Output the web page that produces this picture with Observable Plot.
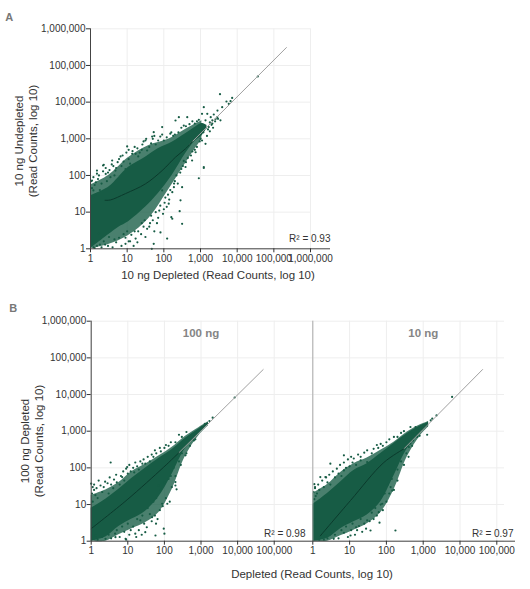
<!DOCTYPE html>
<html><head><meta charset="utf-8">
<script src="https://cdn.jsdelivr.net/npm/d3@7"></script>
<script src="https://cdn.jsdelivr.net/npm/@observablehq/plot@0.6"></script>
<style>
body{margin:0;background:#fff;font-family:"Liberation Sans",Arial,sans-serif;}
#root{position:relative;width:530px;height:589px;overflow:hidden;background:#fff;}
#root svg{position:absolute;}
.lab{position:absolute;white-space:nowrap;transform:translate(-50%,-50%);color:#333;font-size:11.5px;text-align:center;line-height:14px;}
.rot{transform:translate(-50%,-50%) rotate(-90deg);}
.tag{font-weight:bold;color:#777;font-size:11px;}
.facet{font-weight:bold;color:#858585;font-size:11.5px;}
</style></head><body><div id="root"></div>
<script>
// ---------- data ----------
const tickValues = [1, 10, 100, 1000, 10000, 100000, 1000000];
const tickValuesB = [1, 10, 100, 1000, 10000, 100000];
const r2Labels = ["R² = 0.93", "R² = 0.98", "R² = 0.97"];
const facetLabels = ["100 ng", "10 ng"];

// Panel A: solid core and half-density halo of the point cloud (x, lower edge, upper edge)
const coreA_x  = [1, 3.1, 5.9, 10.9, 31.5, 70, 168, 390, 735, 1090, 1500];
const coreA_lo = [1, 2.4, 3.9, 5.5, 13.6, 31.6, 100, 390, 900, 1200, 1900];
const coreA_hi = [28, 48, 90, 167, 316, 535, 810, 1370, 2090, 2600, 2300];
const haloA_x  = [1, 3.1, 10.9, 38, 134, 470, 1090];
const haloA_lo = [1, 1.3, 2.3, 6.5, 40, 280, 950];
const haloA_hi = [55, 100, 310, 650, 970, 2000, 3100];
const fitA_x = [2.5, 3.5, 9, 31.5, 90, 208, 390, 600];
const fitA_y = [21, 21.5, 32, 59, 136, 316, 535, 840];
const diagA_x = [500, 220000];
const diagA_y = [700, 308000];
const outA = [
[36500,50000],[3400,16500],[7300,13000],[6600,10600],[5900,9000],[5100,10400],[3900,7300],[1230,7300],[2900,5900],[2300,4600],[1900,3900],[1370,3200],[2100,3200],[1530,4800],[3500,3200],[1100,4800],[2870,3900],[435,3900],[257,3900],[208,3160],[90,2090],[1680,2090],[2100,2600],[53,1520],[48,1150],[150,1380],[590,1690],[31.5,900],[10,620],[13.7,390],[17,390],[6.6,330],[3.9,256],[2.3,195],[2.2,187],[1.5,136],[1.5,112],[2.6,110],[4.8,136],[1.1,73],[1.2,39],
[1230,170],[1230,160],[900,84],[315,48],[285,21],[270,10.6],[315,4.8],[170,6.6],[160,7.3],[123,1.9],[47,1],[15,1.2],[1.2,1.1],[81,2.8],[53,1.37],[31.5,2.1],[17,1.9],[9,1.37],[3.2,2.1],[1.7,2.6],[136,17],[90,39],[188,48],[390,170],[590,256],[735,430],[1370,730],[1000,1000],
[1.2,25],[1.4,30],[1.1,45],[1.3,55],[1.8,40],[2,60],[1.6,80],[2.8,70],[3.5,90],[3,120],[4.5,100],[5,160],[7,180],[8,240],[9,150],[11,280],[12,210],[20,330],[22,420],[25,500],[35,480],[40,600],[45,750],[60,700],[70,900],[100,900],[120,1100],[200,1300],[250,1500],[300,2000],[400,2200],[500,2500],[700,2600],[800,3000],[1000,2400],
[3,1.2],[5,1.5],[6,2],[8,2.5],[10,3],[12,1.6],[20,3],[25,5],[30,6],[40,4],[45,8],[60,10],[70,7],[80,15],[100,12],[110,25],[130,30],[150,40],[200,70],[220,100],[300,150],[350,250],[450,300],[600,450],[800,600],[1100,900],[1500,1200],[1800,1600],
[1.1,1.5],[1.5,1.2],[2,1.1],[2.5,1.3],
[1200,1500],[1400,2000],[1600,1800],[2000,2400],[2500,3000],[3000,3500],[1800,2800],[2200,2000],[2600,3500],
[1.05,70],[1.2,90],[1.4,65],[1.7,100],[2.2,130],[2.6,160],[3.3,140],[3.8,200],[4.2,180],[5.5,230],[6,280],[7.5,350],[9.5,420],[11,500],[14,460],[16,600],[19,550],[26,700],[28,850],[33,1000],[50,1000],[55,1200],[80,1150],[90,1300],[160,1500],[180,1200],[350,2300],[600,3000],[900,3300],
[1.3,1.05],[1.8,1.3],[2.3,1.6],[4,1.1],[4.5,1.8],[7,1.2],[9,2],[11,1.6],[13,2.4],[16,3],[19,1.5],[24,2.5],[28,4],[35,3.5],[42,5],[50,6],[55,3],[65,5],[75,11],[95,9],[105,18],[120,14],[140,22],[170,35],[190,60],[240,60],[280,120],[330,180],[400,230],[550,350],[700,500],[950,850]
];

// Panel B, 100 ng
const coreB1_x  = [1, 2.5, 5.7, 13, 30, 70, 160, 370, 870, 1600];
const coreB1_lo = [1, 1.3, 2.5, 4, 6.5, 16, 65, 330, 850, 1500];
const coreB1_hi = [8, 14, 26, 52, 98, 180, 310, 630, 1150, 1750];
const haloB1_lo = [1, 1, 1.5, 2.2, 3.2, 6, 25, 200, 750, 1400];
const haloB1_hi = [18, 25, 40, 80, 125, 210, 360, 720, 1250, 1800];
const fitB1_x = [1, 9.6, 96, 250];
const fitB1_y = [2.2, 13.5, 105, 260];
const diagB1_x = [250, 50000];
const diagB1_y = [260, 48000];
const outB1 = [
[8300,8300],[2080,2340],[1270,1580],[1070,1300],[1400,1500],[1700,1900],[1000,1150],[900,1050],[3.4,140],[1,37],[1.1,30],[1.6,45],[7,56],[9.6,105],[30,130],[200,41],[200,33],[215,26],[87,10.5],[120,10.5],[96,2.2],[100,1.6],[57,1.43],[59,3],[30,1.76],[22,3.7],[16,1.6],[8.7,1.16],[4.6,1.29],[2.46,1.16],[1.3,1.43],[377,220],[640,560],[46,4.5],[70,33],
[1.1,12],[1.3,18],[1.2,25],[1.5,15],[2,22],[2.2,30],[3,20],[3.5,35],[4,28],[5,40],[6,35],[8,45],[10,70],[12,80],[15,75],[18,110],[20,90],[25,130],[40,150],[50,200],[60,250],[80,280],[100,350],[130,400],[200,500],[300,700],
[3,1.5],[5,2],[7,2.5],[10,3],[12,2],[18,4],[25,5],[35,8],[40,5.5],[50,12],[60,15],[80,25],[100,40],[130,50],[150,60],[180,100],[250,150],[300,250],[500,400],[700,600],
[1.05,20],[1.2,35],[1.4,28],[1.8,33],[2.4,42],[2.8,38],[3.2,55],[4.2,48],[4.8,65],[6.5,60],[7.5,80],[9,95],[11,120],[14,100],[16,140],[22,150],[27,170],[35,200],[45,230],[55,300],[75,350],[110,420],[150,500],[250,800],[400,950],
[1.5,1.1],[2,1.3],[3.5,1.2],[4.5,1.6],[6,1.3],[8,1.8],[9,1.1],[11,1.5],[14,2.5],[17,1.3],[20,2],[24,1.5],[28,3],[33,2.4],[45,3.5],[55,5],[65,4],[75,7],[90,9],[110,15],[140,12],[160,30],[200,60],[280,120],[400,250]
];

// Panel B, 10 ng
const coreB2_x  = [1, 2.5, 5.7, 13, 30, 70, 160, 370, 840, 1400];
const coreB2_lo = [1, 1.2, 2.2, 3.4, 5.2, 12, 60, 330, 900, 1400];
const coreB2_hi = [10, 20, 41, 85, 130, 245, 460, 860, 1400, 1750];
const haloB2_lo = [1, 1, 1.4, 2, 3, 6, 25, 200, 750, 1300];
const haloB2_hi = [20, 35, 75, 130, 185, 300, 500, 950, 1500, 1850];
const fitB2_x = [1.6, 10.6, 85, 300];
const fitB2_y = [1.4, 12.9, 140, 330];
const diagB2_x = [300, 41000];
const diagB2_y = [330, 48000];
const outB2 = [
[6100,8600],[2300,2700],[1760,2200],[1600,1970],[1280,800],[1150,1440],[940,1170],[620,1300],[1280,1440],[500,860],[450,460],[144,220],[7,220],[3,130],[1.6,56],[2.2,56],[1.1,36],[1.15,30],[7,85],[20,160],[30,144],[130,30],[144,24],[77,10.5],[62,6.2],[30,3.7],[16,2],[37,1.96],[176,1.96],[10.6,1.43],[3.7,1.16],[2.2,1.43],[1.1,2.5],[1.1,4],[410,370],[690,700],[530,560],
[1.1,14],[1.3,20],[1.2,17],[1.5,25],[2,30],[2.5,40],[3,35],[4,55],[5,70],[6,60],[8,100],[10,110],[12,140],[15,120],[20,200],[40,250],[60,350],[80,400],[100,500],[200,700],[300,1000],
[2,1.1],[4,1.5],[6,2],[8,2.5],[12,3],[15,2.4],[20,4],[25,3],[40,6],[50,8],[70,10],[90,20],[110,35],[140,50],[200,90],[250,150],[350,250],[500,400],[800,750],
[1.05,22],[1.15,28],[1.4,35],[1.8,45],[2.3,55],[2.8,65],[3.5,80],[4.5,95],[5.5,120],[7,140],[9,170],[11,200],[13,180],[17,230],[25,260],[30,300],[45,330],[55,420],[70,450],[120,600],[160,700],[250,900],[450,1300],
[1.5,1.1],[2.5,1.2],[3,1.6],[5,1.2],[7,1.7],[9,1.3],[11,2],[14,1.5],[18,2.6],[22,1.8],[28,2.2],[35,3.5],[45,4],[55,5],[65,3.2],[80,7],[100,12],[120,20],[160,25],[200,45],[300,120],[400,200]
];

// ---------- drawing ----------
const GREEN = "#175c45";
const FIT = "#0b3a2c";
const fmt = d3.format(",");
const root = document.getElementById("root");
const zip = (xs, ys) => xs.map((x, i) => ({x, y: ys[i]}));
const band = (xs, lo, hi) => xs.map((x, i) => ({x, lo: lo[i], hi: hi[i]}));

function panel(o) {
  const marks = [
    Plot.ruleX(o.xTicks, {y1: 1, y2: 1e6, stroke: "#eeeeee"}),
    Plot.ruleY(tickValues, {x1: 1, x2: o.gridXMax, stroke: "#eeeeee"}),
    Plot.areaY(o.halo, {x: "x", y1: "lo", y2: "hi", fill: GREEN, fillOpacity: 0.78, curve: "catmull-rom"}),
    Plot.areaY(o.core, {x: "x", y1: "lo", y2: "hi", fill: GREEN, curve: "catmull-rom"}),
    Plot.dot(o.out, {x: d => d[0], y: d => d[1], r: 1.1, fill: GREEN}),
    Plot.line(o.diag, {x: "x", y: "y", stroke: "#a0a0a0", strokeWidth: 1}),
    Plot.line(o.fit, {x: "x", y: "y", stroke: FIT, strokeWidth: 1, curve: "catmull-rom"}),
    Plot.ruleX([1], {stroke: o.yAxisColor}),
    Plot.ruleY([1], {stroke: "#444"}),
    Plot.axisX(o.xTicks, {tickFormat: fmt, tickSize: 4, tickPadding: 2, fontSize: 10, label: null}),
    Plot.text([o.r2], {text: d => d, frameAnchor: "bottom-right", dx: o.r2dx, dy: o.r2dy, textAnchor: "end", lineAnchor: "middle", fontSize: 10, fill: "#333"})
  ];
  if (o.yLabels) marks.push(Plot.axisY(tickValues, {tickFormat: fmt, tickSize: 4, tickPadding: 1, fontSize: 10, label: null}));
  const svg = Plot.plot({
    width: o.width, height: o.height,
    marginLeft: o.ml, marginRight: o.mr, marginTop: o.mt, marginBottom: o.mb,
    style: {fontFamily: "'Liberation Sans', Arial, sans-serif", fontSize: "10px", color: "#333", background: "transparent", overflow: "visible"},
    x: {type: "log", domain: [1, o.xMax], axis: null, label: null},
    y: {type: "log", domain: [1, 1e6], axis: null, label: null},
    marks
  });
  svg.style.left = o.left + "px";
  svg.style.top = o.top + "px";
  root.appendChild(svg);
}

panel({left: 0, top: 0, width: 340, height: 290, ml: 90, mr: 10, mt: 28.3, mb: 41.7,
  xMax: Math.pow(10, 6.545), gridXMax: 1e6, xTicks: tickValues, yLabels: true, yAxisColor: "#444",
  core: band(coreA_x, coreA_lo, coreA_hi), halo: band(haloA_x, haloA_lo, haloA_hi),
  out: outA, fit: zip(fitA_x, fitA_y), diag: zip(diagA_x, diagA_y),
  r2: r2Labels[0], r2dx: 0, r2dy: -10});

panel({left: 0, top: 290, width: 312, height: 299, ml: 90.7, mr: 0, mt: 30.7, mb: 48.3,
  xMax: Math.pow(10, 6.046), gridXMax: Math.pow(10, 6.046), xTicks: tickValuesB, yLabels: true, yAxisColor: "#444",
  core: band(coreB1_x, coreB1_lo, coreB1_hi), halo: band(coreB1_x, haloB1_lo, haloB1_hi),
  out: outB1, fit: zip(fitB1_x, fitB1_y), diag: zip(diagB1_x, diagB1_y),
  r2: r2Labels[1], r2dx: -7, r2dy: -7});

panel({left: 300, top: 290, width: 230, height: 299, ml: 12.3, mr: 15, mt: 30.7, mb: 48.3,
  xMax: Math.pow(10, 5.508), gridXMax: Math.pow(10, 5.21), xTicks: tickValuesB, yLabels: false, yAxisColor: "#aaaaaa",
  core: band(coreB2_x, coreB2_lo, coreB2_hi), halo: band(coreB2_x, haloB2_lo, haloB2_hi),
  out: outB2, fit: zip(fitB2_x, fitB2_y), diag: zip(diagB2_x, diagB2_y),
  r2: r2Labels[2], r2dx: -2, r2dy: -7});

function label(text, x, y, cls) {
  const d = document.createElement("div");
  d.className = "lab " + (cls || "");
  d.innerHTML = text;
  d.style.left = x + "px";
  d.style.top = y + "px";
  root.appendChild(d);
}
label("A", 9.3, 17.3, "tag");
label("B", 13.3, 308.3, "tag");
label("10 ng Undepleted<br>(Read Counts, log 10)", 25.5, 141, "rot");
label("10 ng Depleted (Read Counts, log 10)", 218, 275);
label("100 ng Depleted<br>(Read Counts, log 10)", 32, 440.5, "rot");
label("Depleted (Read Counts, log 10)", 312, 573.5);
label(facetLabels[0], 201, 333.3, "facet");
label(facetLabels[1], 423.3, 333.3, "facet");
</script></body></html>
